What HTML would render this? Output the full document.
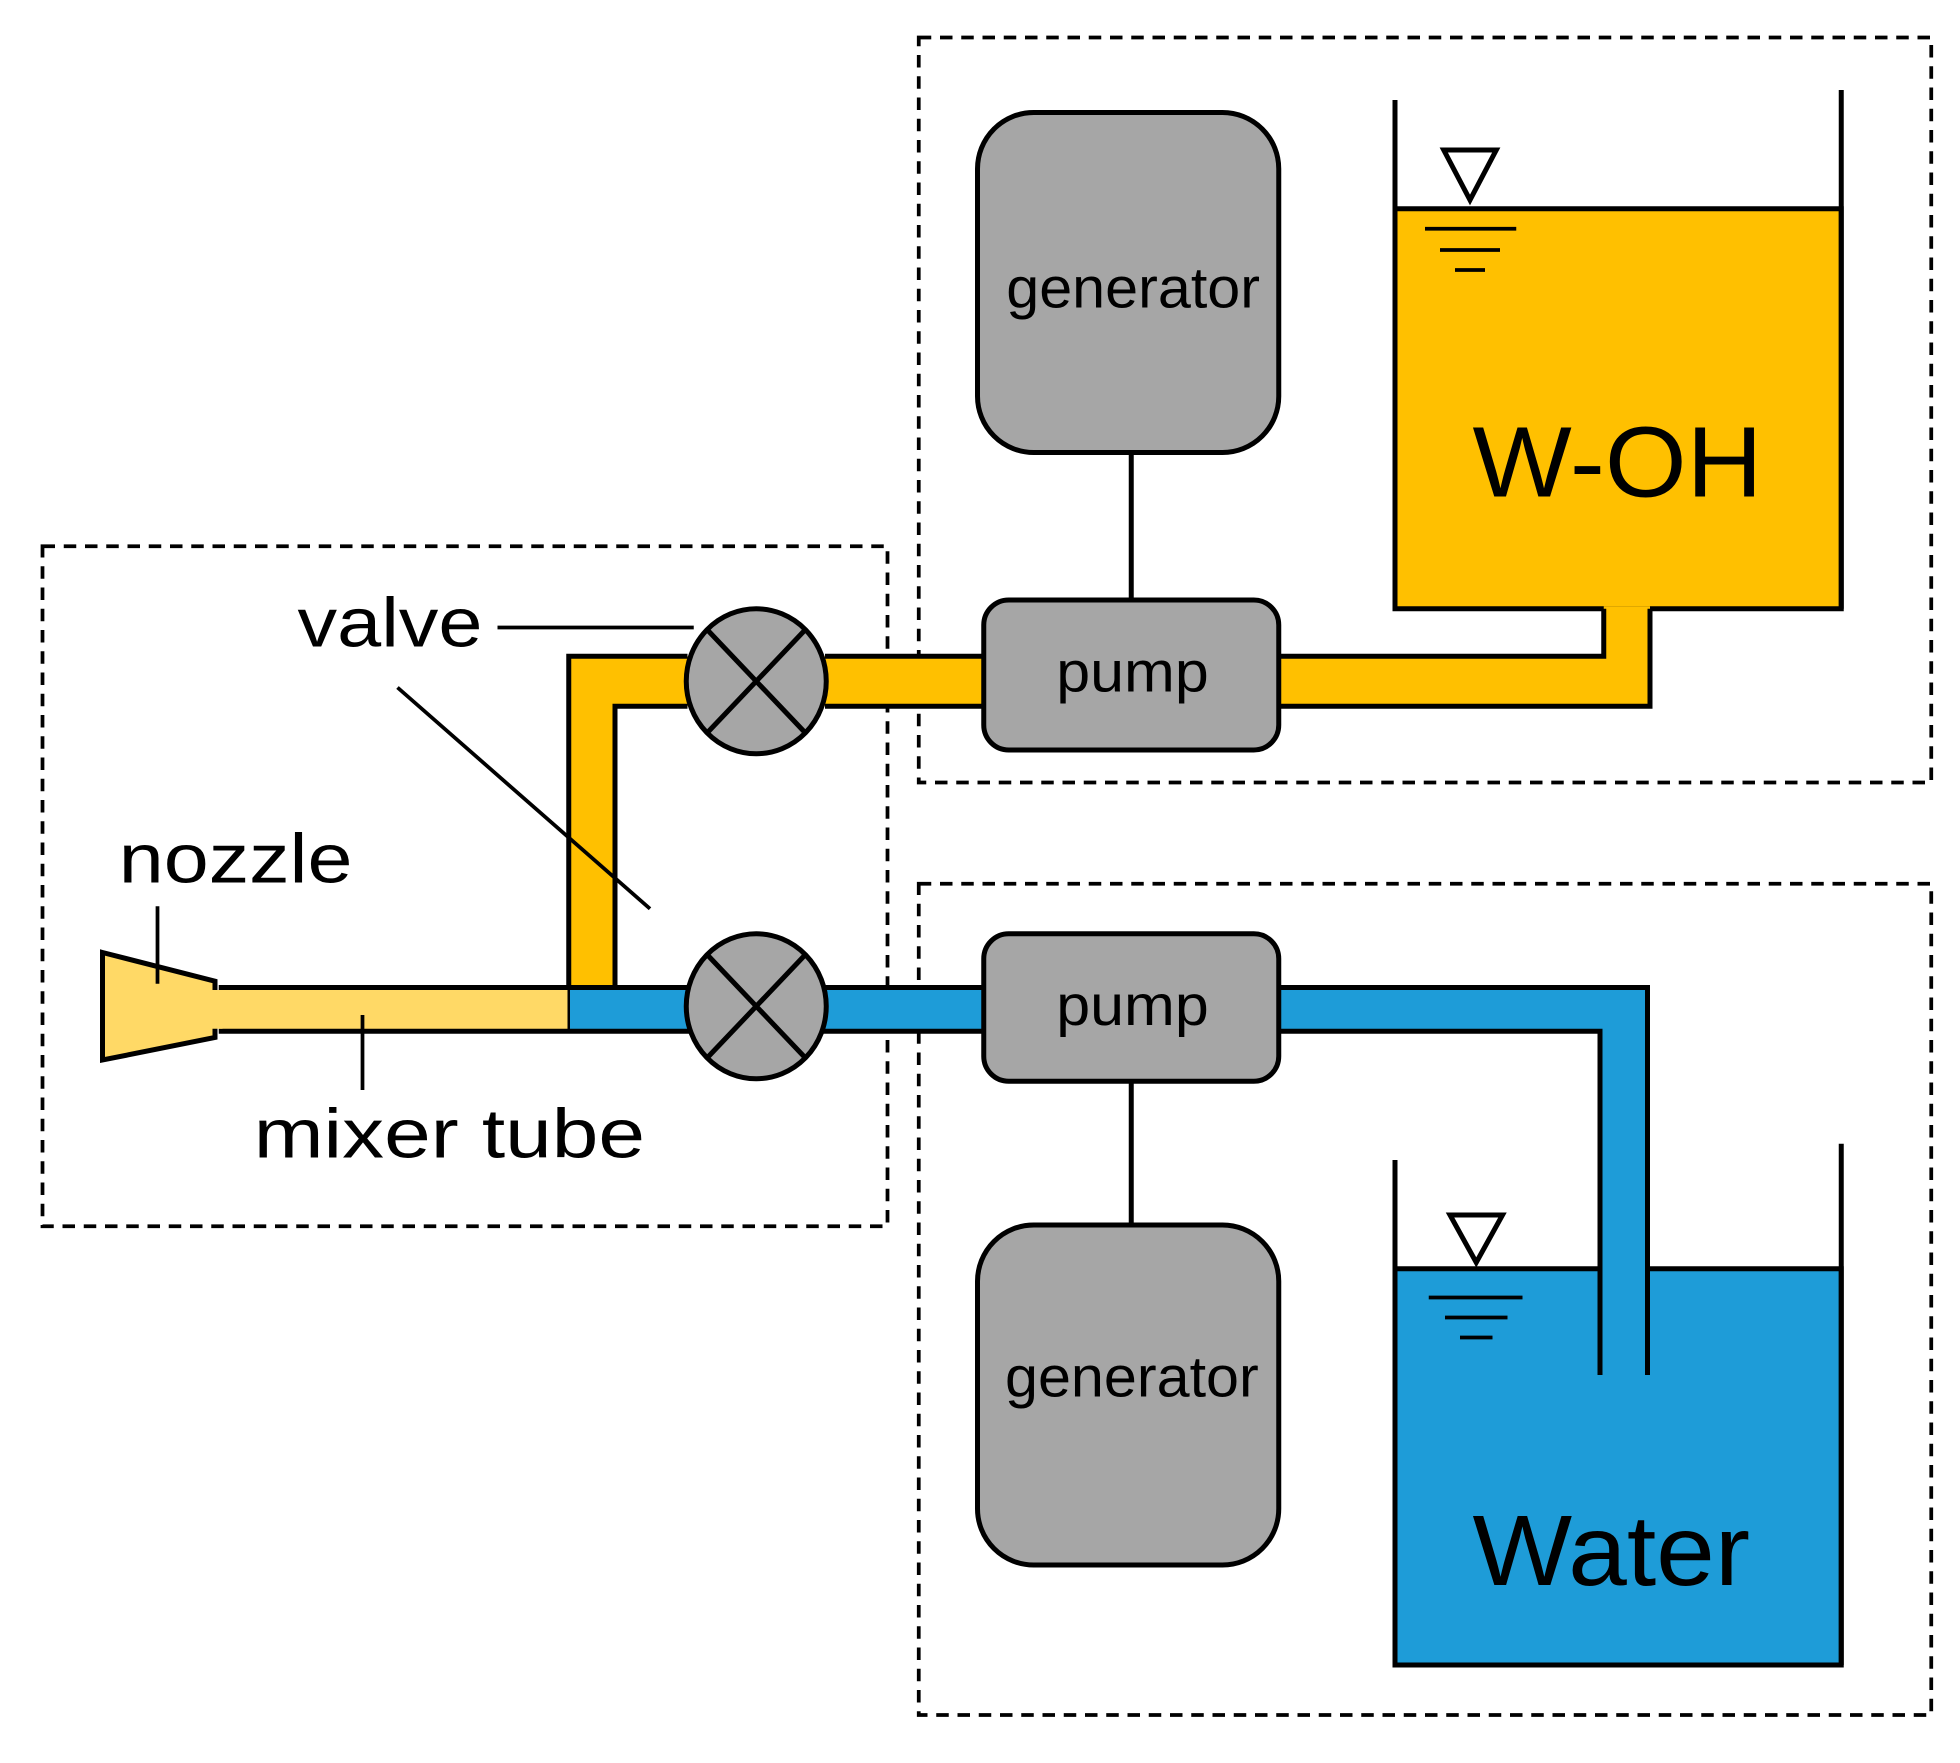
<!DOCTYPE html>
<html><head><meta charset="utf-8"><style>html,body{margin:0;padding:0;background:#fff}svg{display:block}</style></head>
<body>
<svg width="1960" height="1763" viewBox="0 0 1568 1410.4" xmlns="http://www.w3.org/2000/svg" font-family="'Liberation Sans', Arial, sans-serif">
<rect width="1568" height="1411" fill="#fff"/>
<g fill="none" stroke="#000" stroke-width="3" stroke-dasharray="10,7">
<rect x="34" y="437" width="676" height="544"/>
<rect x="735" y="30" width="810" height="596"/>
<rect x="735" y="707" width="810" height="665"/>
</g>
<rect x="1116" y="167" width="357" height="320" fill="#FFC000" stroke="#000" stroke-width="4"/>
<line x1="1116" y1="80" x2="1116" y2="487" stroke="#000" stroke-width="4"/>
<line x1="1473" y1="72" x2="1473" y2="487" stroke="#000" stroke-width="4"/>
<rect x="1283" y="485" width="37" height="42" fill="#FFC000"/>
<rect x="1020" y="525" width="300" height="40" fill="#FFC000"/>
<polyline points="1283,487 1283,525 1023,525" fill="none" stroke="#000" stroke-width="4"/>
<polyline points="1320,487 1320,565 1023,565" fill="none" stroke="#000" stroke-width="4"/>
<polygon points="1155,120 1197,120 1176,160" fill="none" stroke="#000" stroke-width="4"/>
<g stroke="#000" stroke-width="3"><line x1="1140" y1="183" x2="1213" y2="183"/><line x1="1152" y1="200" x2="1200" y2="200"/><line x1="1164" y1="216" x2="1188" y2="216"/></g>
<text x="1178" y="397" font-size="80" textLength="232" lengthAdjust="spacingAndGlyphs">W-OH</text>
<rect x="1116" y="1015" width="357" height="317" fill="#1E9CD8" stroke="#000" stroke-width="4"/>
<line x1="1116" y1="928" x2="1116" y2="1332" stroke="#000" stroke-width="4"/>
<line x1="1473" y1="915" x2="1473" y2="1332" stroke="#000" stroke-width="4"/>
<rect x="1020" y="790" width="298" height="35" fill="#1E9CD8"/>
<rect x="1280" y="790" width="38" height="310" fill="#1E9CD8"/>
<polyline points="1023,790 1318,790 1318,1100" fill="none" stroke="#000" stroke-width="4"/>
<polyline points="1023,825 1280,825 1280,1100" fill="none" stroke="#000" stroke-width="4"/>
<polygon points="1160,972 1202,972 1181,1010" fill="none" stroke="#000" stroke-width="4"/>
<g stroke="#000" stroke-width="3"><line x1="1143" y1="1038" x2="1218" y2="1038"/><line x1="1156" y1="1054" x2="1206" y2="1054"/><line x1="1168" y1="1070" x2="1194" y2="1070"/></g>
<text x="1178" y="1268" font-size="80" textLength="222" lengthAdjust="spacingAndGlyphs">Water</text>
<rect x="455" y="525" width="335" height="40" fill="#FFC000"/>
<rect x="455" y="525" width="37" height="267" fill="#FFC000"/>
<polyline points="550,525 455,525 455,790" fill="none" stroke="#000" stroke-width="4"/>
<polyline points="550,565 492,565 492,790" fill="none" stroke="#000" stroke-width="4"/>
<line x1="660" y1="525" x2="787" y2="525" stroke="#000" stroke-width="4"/>
<line x1="660" y1="565" x2="787" y2="565" stroke="#000" stroke-width="4"/>
<rect x="455" y="790" width="335" height="35" fill="#1E9CD8"/>
<rect x="175" y="790" width="280" height="35" fill="#FFD966"/>
<line x1="175" y1="790" x2="787" y2="790" stroke="#000" stroke-width="4"/>
<line x1="175" y1="825" x2="787" y2="825" stroke="#000" stroke-width="4"/>
<line x1="455" y1="790" x2="455" y2="825" stroke="#000" stroke-width="2"/>
<polygon points="82,762 172,785 172,830 82,848" fill="#FFD966" stroke="#000" stroke-width="4"/>
<rect x="168" y="792" width="10" height="31" fill="#FFD966"/>
<g stroke="#000" stroke-width="4">
<ellipse cx="605" cy="545" rx="56" ry="58" fill="#A6A6A6"/>
<line x1="566" y1="504" x2="644" y2="586"/><line x1="644" y1="504" x2="566" y2="586"/>
<ellipse cx="605" cy="805" rx="56" ry="58" fill="#A6A6A6"/>
<line x1="566" y1="764" x2="644" y2="846"/><line x1="644" y1="764" x2="566" y2="846"/>
</g>
<g stroke="#000" stroke-width="4" fill="#A6A6A6">
<line x1="905" y1="362" x2="905" y2="480"/>
<line x1="905" y1="865" x2="905" y2="980"/>
<rect x="782" y="90" width="241" height="272" rx="45"/>
<rect x="787" y="480" width="236" height="120" rx="20"/>
<rect x="787" y="747" width="236" height="118" rx="20"/>
<rect x="782" y="980" width="241" height="272" rx="45"/>
</g>
<g font-size="46" fill="#000">
<text x="805" y="246" textLength="203" lengthAdjust="spacingAndGlyphs">generator</text>
<text x="845" y="553" textLength="122" lengthAdjust="spacingAndGlyphs">pump</text>
<text x="845" y="820" textLength="122" lengthAdjust="spacingAndGlyphs">pump</text>
<text x="804" y="1117" textLength="203" lengthAdjust="spacingAndGlyphs">generator</text>
</g>
<g font-size="56" fill="#000">
<text x="95" y="706" textLength="187" lengthAdjust="spacingAndGlyphs">nozzle</text>
<text x="203" y="926" textLength="313" lengthAdjust="spacingAndGlyphs">mixer tube</text>
<text x="238" y="517" textLength="148" lengthAdjust="spacingAndGlyphs">valve</text>
</g>
<g stroke="#000" stroke-width="3">
<line x1="126" y1="725" x2="126" y2="787"/>
<line x1="290" y1="812" x2="290" y2="872"/>
<line x1="398" y1="502" x2="555" y2="502"/>
<line x1="318" y1="550" x2="520" y2="727"/>
</g>
</svg>
</body></html>
